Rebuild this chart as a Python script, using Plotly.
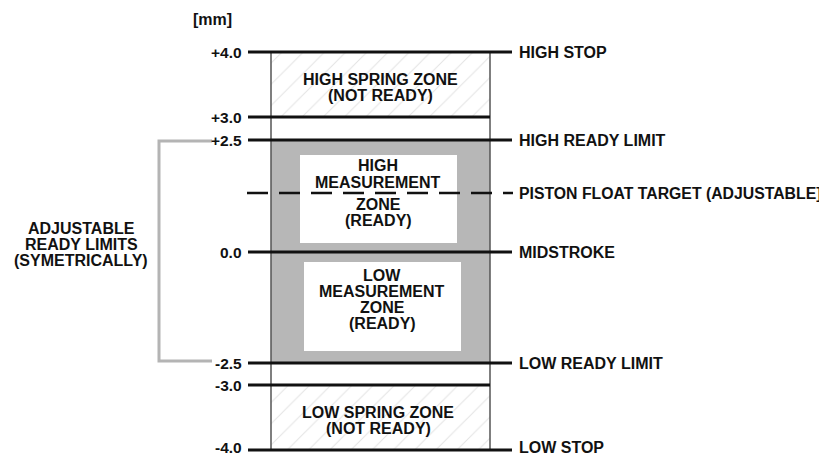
import plotly.graph_objects as go

# ---------------- data ----------------
level_labels = ["+4.0", "+3.0", "+2.5", "0.0", "-2.5", "-3.0", "-4.0"]
level_names = ["HIGH STOP", "", "HIGH READY LIMIT", "MIDSTROKE", "LOW READY LIMIT", "", "LOW STOP"]
float_target_name = "PISTON FLOAT TARGET (ADJUSTABLE]"
unit_label = "[mm]"
bracket_label = ["ADJUSTABLE", "READY LIMITS", "(SYMETRICALLY)"]
high_spring_text = ["HIGH SPRING ZONE", "(NOT READY)"]
high_meas_text = ["HIGH", "MEASUREMENT", "ZONE", "(READY)"]
low_meas_text = ["LOW", "MEASUREMENT", "ZONE", "(READY)"]
low_spring_text = ["LOW SPRING ZONE", "(NOT READY)"]

# ---------------- layout (schematic positions, pixels) ----------------
row_y = [52, 117, 140, 252, 363, 385, 450]       # drawn row of each level
label_dy = [0, 0, 0, 0, 0, 0, -3]                # keep bottom labels inside the page
long_line = [i for i, n in enumerate(level_names) if n]  # lines that reach the labels
float_y = 193
line_x0, line_x1, box_x0, box_x1 = 248, 512, 271, 490
FONT = "Liberation Sans, Arial, sans-serif"
BLACK = "#111111"
OFF = 8  # page body margin

fig = go.Figure()

# hatched spring zones (bars with pattern)
for top, bot in [(row_y[0], row_y[1]), (row_y[5], row_y[6])]:
    fig.add_trace(go.Bar(
        x=[(box_x0 + box_x1) / 2], y=[bot - top], base=[top], width=[box_x1 - box_x0],
        marker=dict(color="white", line=dict(width=0),
                    pattern=dict(shape="/", fgcolor="#c8c8c8", bgcolor="white",
                                 size=15, solidity=0.07)),
        hoverinfo="skip", showlegend=False))

shapes = []
shapes.append(dict(type="rect", x0=box_x0, x1=box_x1, y0=row_y[2], y1=row_y[4],
                   fillcolor="#b7b7b7", line=dict(width=0), layer="below"))
shapes.append(dict(type="rect", x0=300, x1=457, y0=155, y1=243,
                   fillcolor="white", line=dict(width=0)))
shapes.append(dict(type="rect", x0=304, x1=461, y0=262, y1=351,
                   fillcolor="white", line=dict(width=0)))
shapes.append(dict(type="rect", x0=box_x0, x1=box_x1, y0=row_y[0], y1=row_y[6],
                   line=dict(color="#555555", width=1.5)))
for i, y in enumerate(row_y):
    x1 = line_x1 if i in long_line else box_x1
    shapes.append(dict(type="line", x0=line_x0, x1=x1, y0=y, y1=y,
                       line=dict(color=BLACK, width=3)))
shapes.append(dict(type="line", x0=247, x1=513, y0=float_y, y1=float_y,
                   line=dict(color=BLACK, width=2.5, dash="21px,11px")))
shapes.append(dict(type="path",
                   path=f"M 212 {row_y[2]+1} L 159 {row_y[2]+1} L 159 {row_y[4]-2} L 212 {row_y[4]-2}",
                   line=dict(color="#b4b4b4", width=3)))

ann = []
def txt(x, y, t, anchor="center", size=16):
    ann.append(dict(x=x, y=y, text=t, showarrow=False, xanchor=anchor, yanchor="middle",
                    font=dict(family=FONT, size=size, color=BLACK)))

for lab, y, dy in zip(level_labels, row_y, label_dy):
    txt(244, y + dy, f"<b>{lab}</b>", "right", 15.5)
for name, y, dy in zip(level_names, row_y, label_dy):
    if name:
        txt(517, y + dy, f"<b>{name}</b>", "left")
txt(517, float_y, f"<b>{float_target_name}</b>", "left", 15.8)
txt(212, 19, f"<b>{unit_label}</b>", "center")

for k, t in enumerate(bracket_label):
    txt(81, 228 + 16 * k, f"<b>{t}</b>")
for k, t in enumerate(high_spring_text):
    txt(380, 79 + 16 * k, f"<b>{t}</b>")
for t, y in zip(high_meas_text, [165, 182, 204, 220]):
    txt(378, y, f"<b>{t}</b>")
for k, t in enumerate(low_meas_text):
    txt(382, 275 + 16 * k, f"<b>{t}</b>")
for k, t in enumerate(low_spring_text):
    txt(378, 412 + 16 * k, f"<b>{t}</b>")

fig.update_layout(
    width=827 - OFF, height=456 - OFF, margin=dict(l=0, r=0, t=0, b=0),
    paper_bgcolor="white", plot_bgcolor="white", barmode="overlay",
    shapes=shapes, annotations=ann, showlegend=False,
    xaxis=dict(range=[OFF, 827], visible=False, fixedrange=True),
    yaxis=dict(range=[456, OFF], visible=False, fixedrange=True),
)
fig.write_html("out.html", config={"displayModeBar": False})
